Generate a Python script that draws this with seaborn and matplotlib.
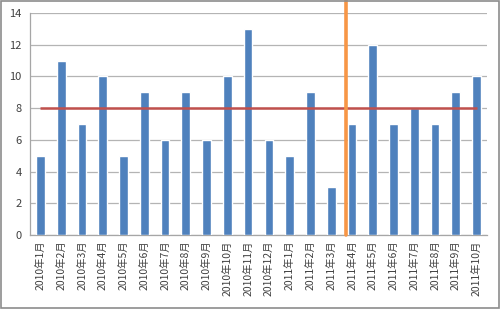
import matplotlib
matplotlib.use("Agg")
import matplotlib.pyplot as plt
import seaborn as sns
import pandas as pd
import numpy as np
from matplotlib.patches import Rectangle

categories = ["2010年1月", "2010年2月", "2010年3月", "2010年4月", "2010年5月", "2010年6月",
              "2010年7月", "2010年8月", "2010年9月", "2010年10月", "2010年11月", "2010年12月",
              "2011年1月", "2011年2月", "2011年3月", "2011年4月", "2011年5月", "2011年6月",
              "2011年7月", "2011年8月", "2011年9月", "2011年10月"]
values = [5, 11, 7, 10, 5, 9, 6, 9, 6, 10, 13, 6, 5, 9, 3, 7, 12, 7, 8, 7, 9, 10]
target = 8
yticks = [0, 2, 4, 6, 8, 10, 12, 14]

sns.set_style("white")
plt.rcParams['font.family'] = ['Noto Sans CJK JP', 'DejaVu Sans']

df = pd.DataFrame({"month": categories, "value": values})

fig = plt.figure(figsize=(5, 3.09), dpi=100)
ax = fig.add_axes([0.06, 0.2395, 0.914, 0.7185])

sns.barplot(data=df, x="month", y="value", color="#4F81BD", width=0.42,
            saturation=1, ax=ax, zorder=3)

ax.set_ylim(0, 14)
ax.set_yticks(yticks)
ax.set_xlim(-0.5, len(categories) - 0.5)
ax.grid(axis="y", color="#B4B4B4", linewidth=0.9, zorder=0)
ax.set_axisbelow(True)
ax.set_xlabel("")
ax.set_ylabel("")

# target line
ax.hlines(target, 0, len(categories) - 1, color="#C0504D", linewidth=1.8, zorder=4)
# separator line
ax.axvline(14.72, ymin=0, ymax=235 / 222, color="#F79646", linewidth=2.6,
           zorder=5, clip_on=False)

for s in ["top", "right"]:
    ax.spines[s].set_visible(False)
for s in ["left", "bottom"]:
    ax.spines[s].set_color("#A6A6A6")
    ax.spines[s].set_linewidth(0.9)

ax.tick_params(axis="y", labelsize=8, length=3, color="#A6A6A6", pad=3, labelcolor="#404040")
ax.set_xticks(range(len(categories)))
ax.set_xticklabels(categories, rotation=90, fontsize=7.5, color="#404040")
ax.tick_params(axis="x", length=0, pad=4)
# minor ticks at category boundaries
ax.set_xticks(np.arange(-0.5, len(categories), 1), minor=True)
ax.tick_params(axis="x", which="minor", length=3, color="#A6A6A6")

fig.patches.append(Rectangle((0.002, 0.003), 0.995, 0.994, transform=fig.transFigure,
                             fill=False, edgecolor="#8C8C8C", linewidth=1.2))

fig.savefig("out.png", dpi=100)
